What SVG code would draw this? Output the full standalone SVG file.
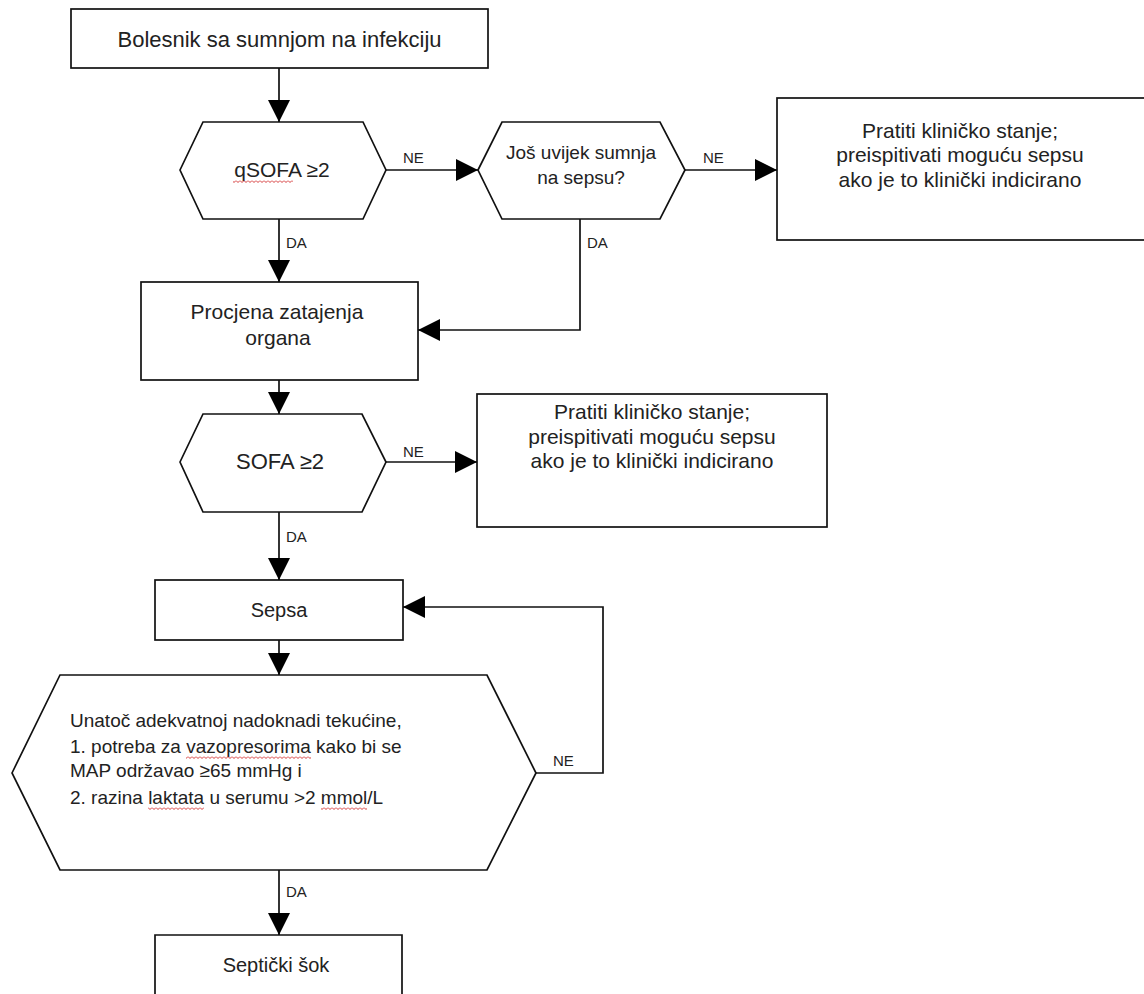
<svg xmlns="http://www.w3.org/2000/svg" width="1144" height="994" viewBox="0 0 1144 994">
<style>
.s{fill:#fff;stroke:#111;stroke-width:1.7}
.t{font-family:"Liberation Sans",Arial,sans-serif;font-size:21px;fill:#222;text-anchor:middle}
.l{font-family:"Liberation Sans",Arial,sans-serif;font-size:19px;fill:#222}
.lb{font-family:"Liberation Sans",Arial,sans-serif;font-size:15px;fill:#222}
.c{fill:none;stroke:#111;stroke-width:1.7}
.sq{fill:url(#sq)}
</style>
<defs>
<marker id="ah" markerUnits="userSpaceOnUse" markerWidth="24" markerHeight="24" refX="22" refY="11" orient="auto">
<path d="M0,0 L22,11 L0,22 z" fill="#000"/>
</marker>
<pattern id="sq" width="4" height="3" patternUnits="userSpaceOnUse">
<polyline points="0,0.5 2,2.5 4,0.5" fill="none" stroke="#d02020" stroke-width="0.9"/>
</pattern>
</defs>
<rect width="1144" height="994" fill="#fff"/>

<g id="n1"><rect class="s" x="71" y="9" width="417" height="59"/><text class="t" x="279.5" y="47" style="font-size:22px">Bolesnik sa sumnjom na infekciju</text></g>

<g id="n2"><polygon class="s" points="180,170 203,122 363,122 386,170 363,219 203,219"/><text class="t" x="282" y="177">qSOFA ≥2</text><rect class="sq" x="233" y="180" width="60" height="3"/></g>

<g id="n3"><polygon class="s" points="478,170 502,122 660,122 685,170 660,219 502,219"/><text class="t" x="581" y="159" style="font-size:19px">Još uvijek sumnja</text><text class="t" x="581" y="184" style="font-size:19px">na sepsu?</text></g>

<g id="n4"><rect class="s" x="777" y="98" width="370" height="142"/><text class="t" x="960" y="138">Pratiti kliničko stanje;</text><text class="t" x="960" y="162">preispitivati moguću sepsu</text><text class="t" x="960" y="187">ako je to klinički indicirano</text></g>

<g id="n5"><rect class="s" x="141" y="282" width="277" height="98"/><text class="t" x="277" y="319">Procjena zatajenja</text><text class="t" x="278" y="345">organa</text></g>

<g id="n6"><polygon class="s" points="180,462 203,414 362,414 386,462 362,512 203,512"/><text class="t" x="280" y="469" style="font-size:22px">SOFA ≥2</text></g>

<g id="n7"><rect class="s" x="477" y="394" width="350" height="133"/><text class="t" x="652" y="419">Pratiti kliničko stanje;</text><text class="t" x="652" y="444">preispitivati moguću sepsu</text><text class="t" x="652" y="468">ako je to klinički indicirano</text></g>

<g id="n8"><rect class="s" x="155" y="580" width="248" height="60"/><text class="t" x="279" y="617" style="font-size:20px">Sepsa</text></g>

<g id="n9"><polygon class="s" points="12,773 60,675 487,675 536,773 487,870 60,870"/>
<text class="l" x="70" y="727">Unatoč adekvatnoj nadoknadi tekućine,</text>
<text class="l" x="70" y="753">1. potreba za vazopresorima kako bi se</text>
<text class="l" x="70" y="777">MAP održavao ≥65 mmHg i</text>
<text class="l" x="70" y="804">2. razina laktata u serumu &gt;2 mmol/L</text>
<rect class="sq" x="186" y="756" width="125" height="3"/>
<rect class="sq" x="148" y="807" width="56" height="3"/>
<rect class="sq" x="321" y="807" width="46" height="3"/>
</g>

<g id="n10"><path class="s" d="M155,1000 L155,935 L402,935 L402,1000"/><text class="t" x="276" y="972" style="font-size:20px">Septički šok</text></g>

<g id="connectors">
<line class="c" x1="279" y1="68" x2="279" y2="122" marker-end="url(#ah)"/>
<line class="c" x1="386" y1="170" x2="478" y2="170" marker-end="url(#ah)"/>
<line class="c" x1="685" y1="170" x2="777" y2="170" marker-end="url(#ah)"/>
<line class="c" x1="279" y1="219" x2="279" y2="282" marker-end="url(#ah)"/>
<polyline class="c" points="580,219 580,330 418,330" marker-end="url(#ah)"/>
<line class="c" x1="279" y1="380" x2="279" y2="414" marker-end="url(#ah)"/>
<line class="c" x1="386" y1="462" x2="477" y2="462" marker-end="url(#ah)"/>
<line class="c" x1="279" y1="512" x2="279" y2="580" marker-end="url(#ah)"/>
<line class="c" x1="279" y1="640" x2="279" y2="675" marker-end="url(#ah)"/>
<polyline class="c" points="536,773 603,773 603,607 403,607" marker-end="url(#ah)"/>
<line class="c" x1="279" y1="870" x2="279" y2="935" marker-end="url(#ah)"/>
<text class="lb" x="403" y="163">NE</text>
<text class="lb" x="703" y="163">NE</text>
<text class="lb" x="286" y="248">DA</text>
<text class="lb" x="587" y="248">DA</text>
<text class="lb" x="403" y="457">NE</text>
<text class="lb" x="286" y="542">DA</text>
<text class="lb" x="553" y="766">NE</text>
<text class="lb" x="286" y="897">DA</text>
</g>
</svg>
